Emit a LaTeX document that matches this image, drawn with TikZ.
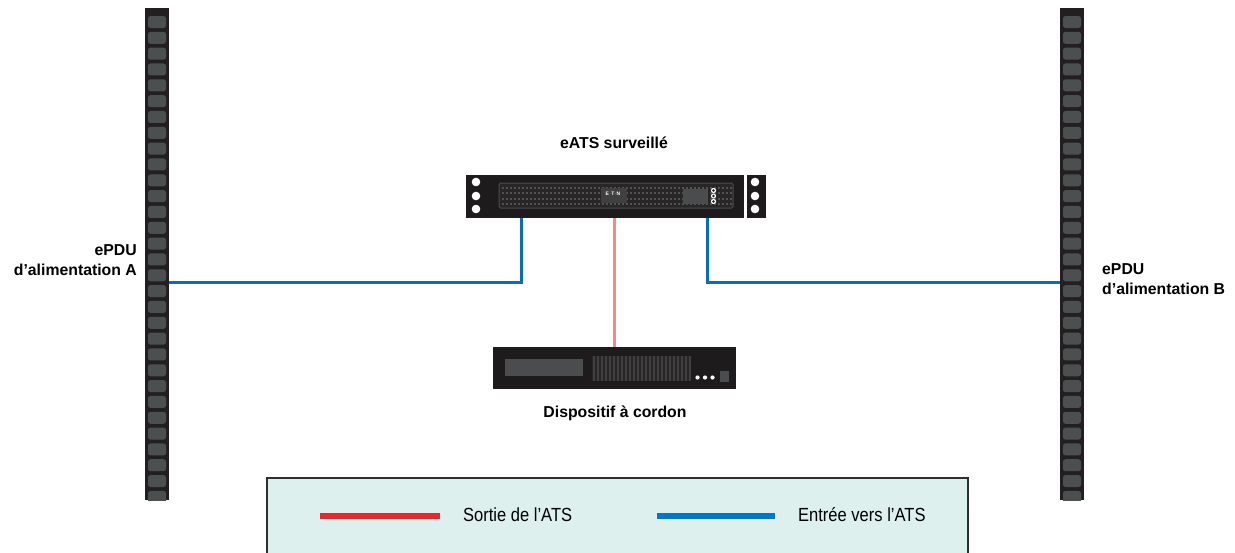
\documentclass[tikz,border=0pt]{standalone}
\usepackage{fontspec}
\setmainfont{Liberation Sans}
\definecolor{railbody}{HTML}{231F20}
\definecolor{slotgrey}{HTML}{4B4F50}
\definecolor{unitbody}{HTML}{1E1B1C}
\definecolor{panelgrey}{HTML}{4A4C4D}
\definecolor{panelfill}{HTML}{282627}
\definecolor{dotgrey}{HTML}{505253}
\definecolor{stripegrey}{HTML}{403F40}
\definecolor{feedblue}{HTML}{0B6CB8}
\definecolor{outred}{HTML}{F08A86}
\definecolor{legblue}{HTML}{0077C8}
\definecolor{legred}{HTML}{E8282D}
\definecolor{legfill}{HTML}{DDF0EE}
\definecolor{legborder}{HTML}{2E2E2E}
\begin{document}
\begin{tikzpicture}[x=1pt,y=-1pt,
  rail/.style={fill=railbody,draw=none,minimum width=24pt,minimum height=492pt,inner sep=0pt,outer sep=0pt},
  lbl/.style={font=\bfseries\fontsize{15.8}{20}\selectfont,inner sep=0pt},
  legtext/.style={font=\fontsize{19}{22}\selectfont,xscale=0.87,anchor=west,inner sep=0pt},
  feed/.style={draw=feedblue,line width=3pt},
  outline/.style={draw=outred,line width=3pt}]
\useasboundingbox (0,0) rectangle (1235,552);

% --- power rails with outlet slots ---
\node[rail] (railA) at (157,254) {};
\node[rail] (railB) at (1072,254) {};
\foreach \r in {railA,railB}{
  \begin{scope}
    \clip (\r.north west) rectangle (\r.south east);
    \foreach \k in {0,...,30}{
      \fill[slotgrey,rounded corners=2.5pt]
        ([xshift=3pt,yshift={-8pt-\k*15.83pt}]\r.north west) rectangle ++(18,12);
    }
  \end{scope}
}

% --- monitored transfer switch ---
\node[fill=unitbody,minimum width=278pt,minimum height=43pt,inner sep=0pt,outer sep=0pt] (eats) at (605,196.5) {};
\node[fill=unitbody,minimum width=19pt,minimum height=43pt,inner sep=0pt,outer sep=0pt] (earR) at (756.5,196.5) {};
\foreach \yy in {182,196,209}{
  \fill[white] (476,\yy) circle (4.3);
  \fill[white] (755,\yy) circle (4.3);
}
\draw[panelgrey,fill=panelfill,line width=1pt,rounded corners=1.5pt] (499,183) rectangle (733,208);
\foreach \yy in {188,193.3,198.6,203.9}{
  \foreach \xx in {503,507,...,731}{
    \fill[dotgrey] (\xx-0.9,\yy-0.9) rectangle ++(1.8,1.8);
  }
}
\fill[black!75] (601,188) rectangle (627,203);
\node[white,font=\bfseries\fontsize{5}{5}\selectfont,inner sep=0pt] (logo) at (613,194) {E$\cdot$T$\cdot$N};
\fill[panelgrey] (683,189) rectangle (708,204);
\foreach \yy in {190.5,196,201.5}{
  \fill[white] (713.5,\yy) circle (2.6);
  \fill[unitbody] (713.5,\yy) circle (1.4);
}

% --- corded device ---
\node[fill=unitbody,minimum width=243pt,minimum height=42pt,inner sep=0pt,outer sep=0pt] (dev) at (614.5,368) {};
\fill[panelgrey] (505,359) rectangle (583,376);
\fill[panelfill] (592,356) rectangle (691,381);
\foreach \xx in {593,597,...,689}{
  \fill[stripegrey] (\xx,356) rectangle ++(2,25);
}
\foreach \xx in {697.5,705,712.5}{
  \fill[white] (\xx,377.5) circle (2.1);
}
\fill[panelgrey] (720,371) rectangle (729,382);

% --- connectors ---
\coordinate (inA) at (521,218);
\coordinate (inB) at (707,218);
\coordinate (out) at (614,218);
\coordinate (tapA) at (railA.east |- 0,282);
\coordinate (tapB) at (railB.west |- 0,282);
\draw[feed] (inA) -- (inA |- tapA) -- (tapA);
\draw[feed] (inB) -- (inB |- tapB) -- (tapB);
\draw[outline] (out) -- (out |- dev.north);

% --- labels ---
\node[lbl] (tEats) at (614,143) {eATS surveillé};
\node[lbl] (tDev) at (615,413) {Dispositif à cordon};
\node[lbl,align=right,anchor=east] (tA) at (137,260) {ePDU\\d’alimentation A};
\node[lbl,align=left,anchor=west] (tB) at (1102,279) {ePDU\\d’alimentation B};

% --- legend ---
\node[fill=legfill,draw=legborder,line width=2pt,minimum width=701pt,minimum height=80pt,inner sep=0pt,anchor=north west] (leg) at (266,477) {};
\coordinate (redA) at (320,516);
\coordinate (redB) at (440,516);
\coordinate (bluA) at (657,516);
\coordinate (bluB) at (775,516);
\draw[legred,line width=5.5pt] (redA) -- (redB);
\draw[legblue,line width=5.5pt] (bluA) -- (bluB);
\node[legtext] (tOut) at (463,515) {Sortie de l’ATS};
\node[legtext] (tIn) at (798,515) {Entrée vers l’ATS};
\end{tikzpicture}
\end{document}
